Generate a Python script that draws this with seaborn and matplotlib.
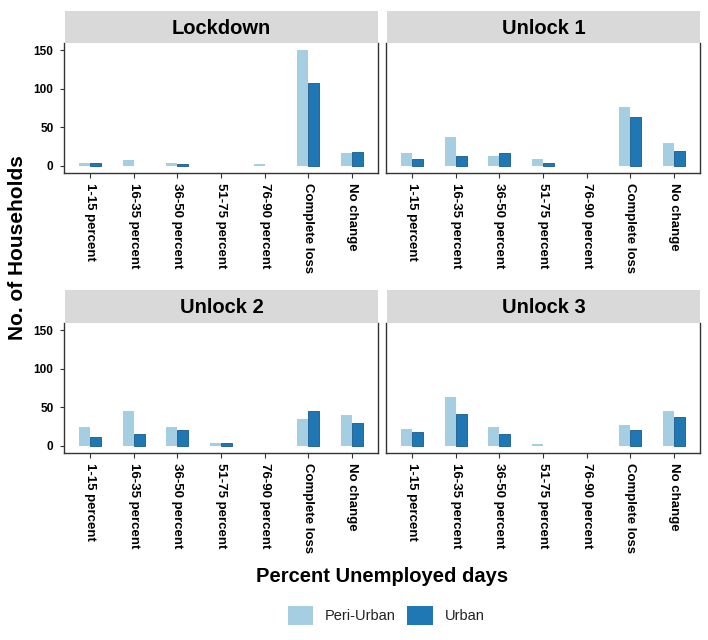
"""
plot.py
Households by percent unemployed days, faceted by phase (Lockdown / Unlocks)
"""

import pandas as pd
import matplotlib
matplotlib.use('Agg')
import matplotlib.pyplot as plt
from matplotlib.patches import Patch
import seaborn as sns

categories = ['1-15 percent', '16-35 percent', '36-50 percent', '51-75 percent',
              '76-90 percent', 'Complete loss', 'No change']
phases = ['Lockdown', 'Unlock 1', 'Unlock 2', 'Unlock 3']
areas = ['Peri-Urban', 'Urban']

# counts
lockdown_peri = [4, 7, 3, 0, 2, 151, 16]
lockdown_urban = [3, 0, 2, 0, 0, 108, 18]
unlock1_peri = [17, 37, 13, 9, 0, 76, 30]
unlock1_urban = [9, 13, 16, 4, 0, 64, 19]
unlock2_peri = [24, 45, 24, 4, 0, 35, 40]
unlock2_urban = [12, 15, 20, 4, 0, 45, 29]
unlock3_peri = [22, 63, 24, 2, 0, 27, 45]
unlock3_urban = [18, 41, 15, 0, 0, 20, 37]
yticks = [0, 50, 100, 150]

series = {
    'Lockdown': (lockdown_peri, lockdown_urban),
    'Unlock 1': (unlock1_peri, unlock1_urban),
    'Unlock 2': (unlock2_peri, unlock2_urban),
    'Unlock 3': (unlock3_peri, unlock3_urban),
}

rows = []
for phase, (peri, urban) in series.items():
    for cat, p, u in zip(categories, peri, urban):
        rows.append({'Phase': phase, 'Category': cat, 'Area': 'Peri-Urban', 'Count': p})
        rows.append({'Phase': phase, 'Category': cat, 'Area': 'Urban', 'Count': u})
df = pd.DataFrame(rows)

sns.set_style('ticks')
plt.rcParams['font.family'] = ['Liberation Sans', 'DejaVu Sans']
plt.rcParams.update({'text.color': 'black', 'xtick.color': '#333333',
                     'ytick.color': '#333333', 'xtick.labelcolor': 'black',
                     'ytick.labelcolor': 'black'})

PALETTE = dict(zip(areas, sns.color_palette('Paired', 2)))
AXIS_COL = '#333333'

W, H = 708, 640
fig = plt.figure(figsize=(W / 100, H / 100), dpi=100)

# panel boxes in pixels: (left, right) and (top, bottom)
cols = [(64, 378), (386, 700)]
panel_rows = [(42.7, 172.7), (322.7, 452.7)]
strip_rows = [(11, 42.7), (290, 322.7)]

for i, phase in enumerate(phases):
    r, c = divmod(i, 2)
    x0, x1 = cols[c]
    y0, y1 = panel_rows[r]
    ax = fig.add_axes([x0 / W, 1 - y1 / H, (x1 - x0) / W, (y1 - y0) / H])

    sub = df[df['Phase'] == phase]
    sns.barplot(data=sub, x='Category', y='Count', hue='Area', order=categories,
                hue_order=areas, palette=PALETTE, width=0.5, gap=0, saturation=1,
                legend=False, ax=ax, errorbar=None, linewidth=0)
    for bar in ax.containers[1]:
        if bar.get_height() > 0:
            bar.set_edgecolor('#17598a')
            bar.set_linewidth(0.6)

    ax.set_xlim(-0.6, 6.6)
    ax.set_ylim(-9, 160)
    ax.set_yticks(yticks)
    ax.set_xlabel('')
    ax.set_ylabel('')
    ax.set_xticks(range(len(categories)))
    ax.set_xticklabels(categories, rotation=270, fontsize=9.5, fontweight='bold',
                       ha='center', va='top', color='black')
    if c == 0:
        ax.set_yticklabels([str(t) for t in yticks], fontsize=8.5, fontweight='bold',
                           color='black')
        ax.tick_params(axis='y', length=3, width=0.8, color=AXIS_COL, pad=4.5)
    else:
        ax.set_yticklabels([])
        ax.tick_params(axis='y', length=0)
    ax.tick_params(axis='x', length=3.5, width=0.8, color=AXIS_COL, pad=4)

    for side in ['left', 'bottom', 'right']:
        ax.spines[side].set_visible(True)
        ax.spines[side].set_color(AXIS_COL)
        ax.spines[side].set_linewidth(1.0)
    ax.spines['top'].set_visible(False)

    # facet strip
    s0, s1 = strip_rows[r]
    sax = fig.add_axes([(x0 + 1) / W, 1 - s1 / H, (x1 - x0 - 1) / W, (s1 - s0) / H])
    sax.set_facecolor('#d9d9d9')
    sax.set_xticks([])
    sax.set_yticks([])
    for sp in sax.spines.values():
        sp.set_visible(False)
    sax.text(0.5, 0.45, phase, ha='center', va='center', fontsize=14.5,
             fontweight='bold', color='black', transform=sax.transAxes)

fig.text(382 / W, 1 - 577 / H, 'Percent Unemployed days', ha='center', va='center',
         fontsize=14.5, fontweight='bold', color='black')
fig.text(18 / W, 1 - 247.7 / H, 'No. of Households', ha='center', va='center',
         rotation=90, fontsize=15, fontweight='bold', color='black')

handles = [Patch(facecolor=PALETTE[a], edgecolor='none', label=a) for a in areas]
fig.legend(handles=handles, loc='center', bbox_to_anchor=(386 / W, 1 - 615.5 / H),
           ncol=2, frameon=False, fontsize=10.5, handlelength=1.75, handleheight=1.7,
           handletextpad=0.8, columnspacing=0.8, labelcolor='#222222')

fig.savefig('out.png', dpi=100)
plt.close()
